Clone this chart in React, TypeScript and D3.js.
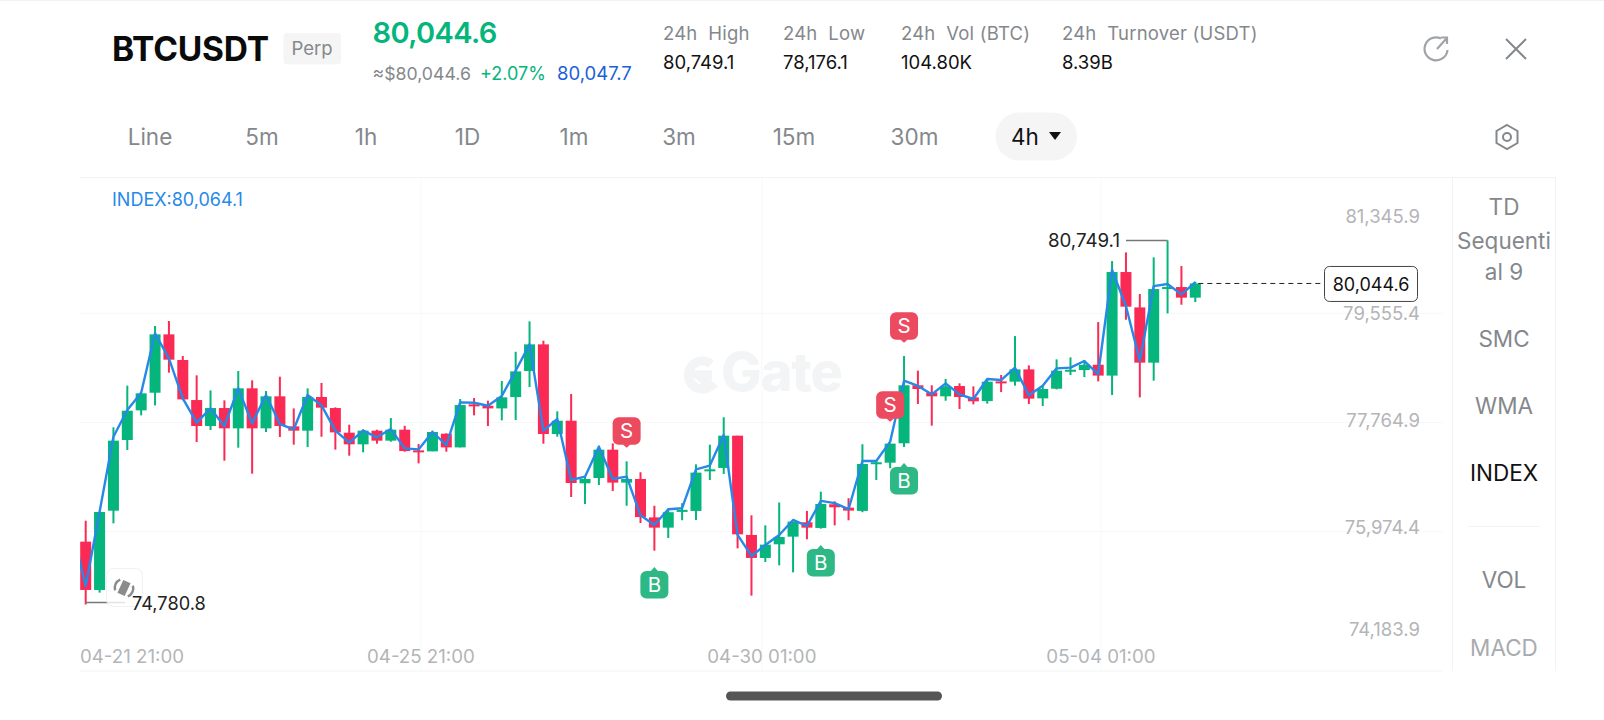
import React from "react";
import * as d3 from "d3";

const opens = [75811,75019,76319,77478,77964,78253,79210,78790,78133,77707,78002,77669,78325,77669,78194,77702,77631,78183,78002,77598,77407,77631,77467,77647,77308,77292,77581,77357,78062,78040,77996,78182,78609,79046,77576,77794,76768,76855,77319,76779,76839,76209,76041,76310,76315,76965,77020,77549,75921,75544,75768,75893,76129,76036,76424,76369,76315,77096,77106,77424,78375,78259,78194,78363,78177,78116,78439,78434,78636,78161,78319,78614,78625,78712,78534,80232,79652,78746,79970,79986,79812];
const highs = [76155,76298,77686,78369,78243,79347,79429,78855,78538,78291,78128,78609,78456,78281,78516,77996,78325,78413,78013,77729,77653,77647,77838,77711,77412,77631,77587,78150,78166,78123,78445,78925,79423,79106,77948,78232,76889,77384,77423,77128,76949,76400,76349,76442,77079,77402,77850,77549,76243,76079,76453,76140,76315,76631,76473,76524,77408,77145,77424,78855,78615,78375,78478,78407,78358,78472,78544,79182,78702,78369,78800,78833,78790,79412,80412,80554,79871,80472,80749.1,80330,80073];
const lows = [74780.8,74975,76111,77314,77882,78046,78582,78130,77445,77642,77139,77352,76926,77609,77527,77402,77362,77532,77320,77221,77276,77417,77450,77286,77095,77292,77286,77357,77882,77707,77800,77806,78346,77417,77532,76543,76428,76740,76641,76400,76117,75663,75871,76162,76167,76823,76921,75702,74926,75478,75423,75308,75850,76024,76079,76162,76294,76823,77014,77363,78069,77713,78122,77986,78062,78074,78264,78369,78068,78036,78308,78544,78510,78439,78215,79450,78177,78451,79554,79696,79740];
const closes = [75019,76298,77467,77958,78243,79210,78795,78144,77707,78002,77669,78325,77669,78194,77707,77631,78183,78008,77603,77407,77631,77467,77647,77297,77280,77609,77357,78051,78046,77996,78177,78603,79046,77576,77794,76773,76839,77319,76779,76839,76215,76041,76294,76332,76943,76997,77549,75931,75544,75762,75888,76140,76041,76429,76375,76320,77085,77113,77418,78375,78314,78194,78358,78183,78112,78434,78423,78636,78156,78314,78614,78630,78712,78534,80232,79664,78746,79953,79986,79812,80044.6];
// Index price per candle; the first value belongs to the candle just left of the visible window.
const indexPrices = [76041,75084,76298,77532,77969,78253,79226,78816,78161,77762,77996,77707,78325,77751,78215,77740,77653,78215,78046,77631,77434,77631,77522,77657,77341,77324,77609,77396,78095,78089,78040,78199,78614,79046,77631,77822,76822,76877,77368,76839,76877,76243,76084,76343,76360,76997,77058,77560,75921,75577,75756,75921,76167,76068,76479,76442,76343,77134,77134,77451,78451,78364,78227,78407,78226,78150,78478,78461,78664,78210,78369,78653,78664,78773,78560,80265,79675,78778,80002,80035,79866,80064.1];

const priceTicks = [81345.9, 79555.4, 77764.9, 75974.4, 74183.9];
const gridPrices = [79555.4, 77764.9, 75974.4];
const timeTickLabels = ["04-21 21:00", "04-25 21:00", "04-30 01:00", "05-04 01:00"];
const timeTickCandles = [0, 24.17, 48.75, 73.2];
const timeframes = ["Line", "5m", "1h", "1D", "1m", "3m", "15m", "30m"];
const statLabels = ["24h  High", "24h  Low", "24h  Vol (BTC)", "24h  Turnover (USDT)"];
const statValues = ["80,749.1", "78,176.1", "104.80K", "8.39B"];
const sideItems = ["SMC", "WMA", "INDEX", "VOL", "MACD"];

const markerCandles = [39, 58, 59, 41, 53, 59];
const markerKinds = ["S", "S", "S", "B", "B", "B"];
const markerPrices = [77352, 77778, 79073, 75396, 75757, 77101];

const GREEN = "#05b57c";
const RED = "#fb2a55";
const BLUE = "#2689e8";
const FONT = "Inter, 'Liberation Sans', sans-serif";

const tfX = [150, 262, 366, 467.5, 574, 679, 794, 914.5];
const statX = [663, 783, 901, 1062];
const sideY = [338.6, 406, 472.6, 580, 647.6];
const sideCol = ["#84888c", "#84888c", "#111", "#84888c", "#a8abae"];
const tickLabelOffset = [12, 0, -2, -4, -12];

export default function App() {
  const x = d3.scaleLinear().domain([0, 80]).range([85.7, 1195.3]);
  const y = d3.scaleLinear().domain([79555.4, 77764.9]).range([313.3, 422.5]);
  const idxLine = d3.line<number>().x((_, i) => x(i - 1)).y(d => y(d));
  const fmt = d3.format(",.1f");
  const last = closes[closes.length - 1];
  const hiI = highs.indexOf(d3.max(highs) as number);
  const loI = lows.indexOf(d3.min(lows) as number);
  const bw = 11;

  return (
    <svg width={1604} height={720} viewBox="0 0 1604 720"
      style={{ position: "fixed", left: 0, top: 0, background: "#fff" }} fontFamily={FONT}>
      <defs>
        <clipPath id="plot"><rect x={80} y={178} width={1372} height={493} /></clipPath>
      </defs>
      <rect x={0} y={0} width={1604} height={1} fill="#f2f2f2" />

      {/* header */}
      <text x={112} y={60.5} fontSize={33.5} fontWeight={700} fill="#0a0a0a" letterSpacing={-0.2}>BTCUSDT</text>
      <rect x={283.5} y={33} width={57.5} height={31.5} rx={4} fill="#f5f5f5" />
      <text x={312} y={55} fontSize={18.5} fill="#84888c" textAnchor="middle">Perp</text>
      <text x={372.5} y={43} fontSize={29} fontWeight={600} fill={GREEN} letterSpacing={-0.6}>{fmt(last)}</text>
      <text x={372.5} y={80} fontSize={17.7} fill="#84888c">≈$80,044.6</text>
      <text x={480} y={80} fontSize={18} fill={GREEN}>+2.07%</text>
      <text x={557} y={80} fontSize={18.5} fill="#1a5fd8">80,047.7</text>
      {statLabels.map((s, i) => (
        <text key={s} x={statX[i]} y={40} fontSize={18.5} fill="#84888c" xmlSpace="preserve" letterSpacing={0.2}>{s}</text>
      ))}
      {statValues.map((s, i) => (
        <text key={s} x={statX[i]} y={69} fontSize={18.5} fill="#111">{s}</text>
      ))}
      <path d="M1441 38.5 A11.5 11.5 0 1 0 1447.5 50" fill="none" stroke="#a0a3a6" strokeWidth={2.2} />
      <path d="M1437 49 L1446 39 M1441 37.5 L1447 37.5 L1447 44" fill="none" stroke="#a0a3a6" strokeWidth={2.2} />
      <path d="M1506 39 L1526 59 M1526 39 L1506 59" stroke="#84888c" strokeWidth={2} />

      {/* timeframes */}
      <rect x={995.5} y={112.5} width={81.5} height={48} rx={24} fill="#f5f5f5" />
      {timeframes.map((t, i) => (
        <text key={t} x={tfX[i]} y={145} fontSize={22.5} fontWeight={400} fill="#84888c" textAnchor="middle">{t}</text>
      ))}
      <text x={1025} y={145} fontSize={22.5} fontWeight={400} fill="#111" textAnchor="middle">4h</text>
      <path d="M1049 132 L1061 132 L1055 140 Z" fill="#111" />
      <path d="M1507 125 L1517.5 131 L1517.5 143 L1507 149 L1496.5 143 L1496.5 131 Z" fill="none" stroke="#84888c" strokeWidth={2} />
      <circle cx={1507} cy={137} r={4} fill="none" stroke="#84888c" strokeWidth={2} />

      {/* frame */}
      <line x1={80} x2={1556} y1={177.5} y2={177.5} stroke="#f2f3f4" />
      <line x1={80} x2={1443} y1={671} y2={671} stroke="#f2f3f4" />
      <line x1={1452.5} x2={1452.5} y1={178} y2={671} stroke="#f2f3f4" />
      <line x1={1555.5} x2={1555.5} y1={178} y2={671} stroke="#f2f3f4" />

      {/* grid */}
      {gridPrices.map(p => (
        <line key={p} x1={80} x2={1443} y1={y(p)} y2={y(p)} stroke="#f6f7f8" />
      ))}
      {timeTickCandles.slice(1).map(c => (
        <line key={c} x1={x(c)} x2={x(c)} y1={178} y2={671} stroke="#f7f8f9" />
      ))}

      {/* watermark */}
      <g fill="none" stroke="#f3f4f5">
        <path d="M711 364 A14 14 0 1 0 711 386 L698 375 L712 375" strokeWidth={9} />
      </g>
      <text x={721} y={391} fontSize={54} fontWeight={800} fill="#f3f4f5" letterSpacing={-1}>Gate</text>

      {/* price labels */}
      {priceTicks.map((p, i) => (
        <text key={p} x={1420} y={y(p) + tickLabelOffset[i]} dy="0.36em" fontSize={18.5} fill="#b3b5b8" textAnchor="end">{fmt(p)}</text>
      ))}
      {timeTickCandles.map((c, i) => (
        <text key={c} x={i === 0 ? 80 : x(c)} y={656} dy="0.36em" fontSize={18.7} fill="#b3b5b8"
          textAnchor={i === 0 ? "start" : "middle"}>{timeTickLabels[i]}</text>
      ))}

      {/* candles */}
      <g clipPath="url(#plot)">
        {closes.map((c, i) => {
          const o = opens[i];
          const up = c >= o;
          const col = up ? GREEN : RED;
          const top = y(Math.max(o, c));
          const bot = y(Math.min(o, c));
          return (
            <g key={i} fill={col}>
              <rect x={x(i) - 1} y={y(highs[i])} width={2} height={y(lows[i]) - y(highs[i])} />
              <rect x={x(i) - bw / 2} y={top} width={bw} height={Math.max(bot - top, 2)} />
            </g>
          );
        })}
        <path d={idxLine(indexPrices) ?? ""} fill="none" stroke={BLUE} strokeWidth={2.4} strokeLinejoin="round" />
      </g>

      <text x={112} y={199.5} dy="0.36em" fontSize={18} fill={BLUE}>INDEX:{fmt(indexPrices[indexPrices.length - 1])}</text>

      {/* last price */}
      <line x1={x(80) + 3} x2={1324} y1={y(last)} y2={y(last)} stroke="#222" strokeDasharray="5 4" />
      <rect x={1324.5} y={y(last) - 17} width={93} height={35} rx={5} fill="#fff" stroke="#444" />
      <text x={1371} y={y(last) + 1} dy="0.36em" fontSize={18} fill="#111" textAnchor="middle">{fmt(last)}</text>

      {/* high / low markers */}
      <path d={`M1126 ${y(highs[hiI])} H${x(hiI)}`} stroke="#777" strokeWidth={1.5} fill="none" />
      <text x={1120} y={y(highs[hiI])} dy="0.36em" fontSize={18.7} fill="#222" textAnchor="end">{fmt(highs[hiI])}</text>
      <path d={`M${x(loI)} ${y(lows[loI]) - 2} H125`} stroke="#777" strokeWidth={1.5} fill="none" />
      <rect x={106.5} y={568.5} width={36} height={38} rx={7} fill="#fff" fillOpacity={0.8} stroke="#f1f1f1" />
      <g transform="rotate(25 124 588)">
        <rect x={120} y={581} width={8} height={14} fill="#8c8c8c" />
        <path d="M117 582 A9 9 0 0 0 117 594 M131 582 A9 9 0 0 1 131 594" fill="none" stroke="#8c8c8c" strokeWidth={2.5} />
      </g>
      <text x={132} y={603.5} dy="0.36em" fontSize={18.2} fill="#222">{fmt(lows[loI])}</text>

      {/* signals */}
      {markerCandles.map((c, i) => {
        const cx = x(c);
        const tip = y(markerPrices[i]);
        const s = markerKinds[i] === "S";
        const col = s ? "#ec4a5f" : "#2db886";
        const h = 27.5;
        const ry = s ? tip - 3 - h : tip + 4;
        const tail = s
          ? `M${cx - 4} ${tip - 3.5} L${cx} ${tip} L${cx + 4} ${tip - 3.5} Z`
          : `M${cx - 4} ${tip + 4.5} L${cx} ${tip} L${cx + 4} ${tip + 4.5} Z`;
        return (
          <g key={i}>
            <path d={tail} fill={col} />
            <rect x={cx - 14} y={ry} width={28} height={h} rx={6} fill={col} />
            <text x={cx} y={ry + h / 2} dy="0.36em" fontSize={20.5} fill="#fff" textAnchor="middle">{markerKinds[i]}</text>
          </g>
        );
      })}

      {/* side panel */}
      <g fontSize={22.5} textAnchor="middle">
        <text x={1504} y={206.6} dy="0.36em" fill="#84888c">TD</text>
        <text x={1504} y={240.4} dy="0.36em" fill="#84888c">Sequenti</text>
        <text x={1504} y={272} dy="0.36em" fill="#84888c">al 9</text>
        {sideItems.map((s, i) => (
          <text key={s} x={1504} y={sideY[i]} dy="0.36em" fill={sideCol[i]}>{s}</text>
        ))}
      </g>
      <line x1={1468} x2={1540} y1={526.5} y2={526.5} stroke="#f2f3f4" />

      {/* home bar */}
      <rect x={726} y={691.5} width={216} height={9} rx={4.5} fill="#555" />
    </svg>
  );
}
